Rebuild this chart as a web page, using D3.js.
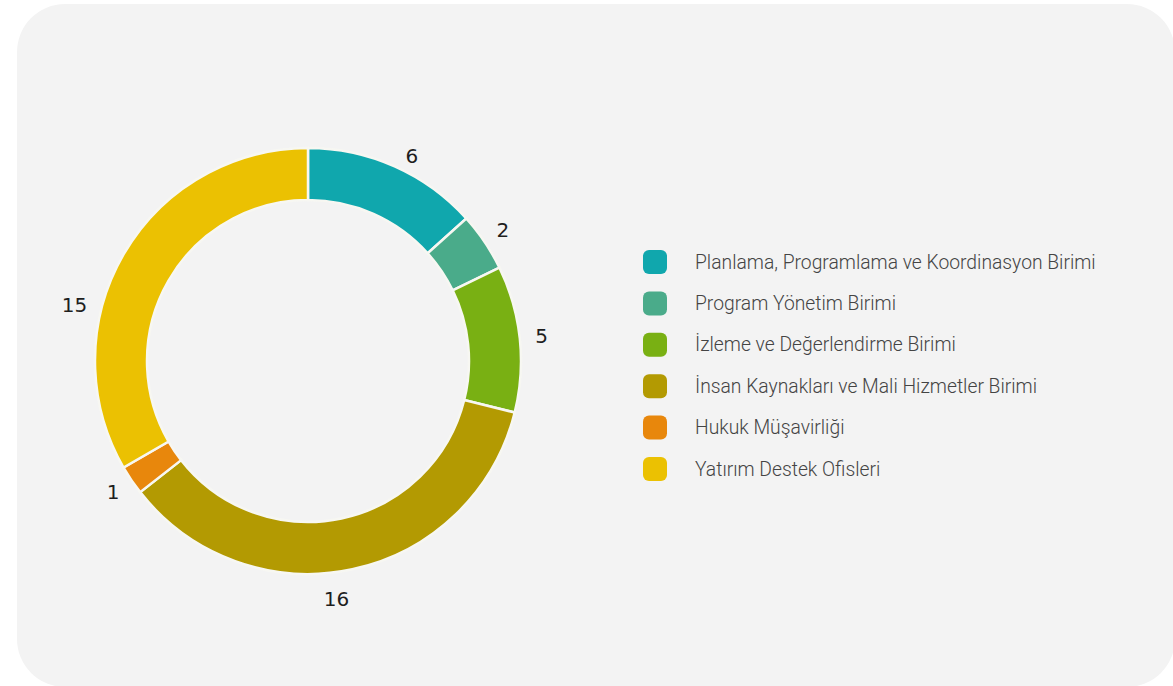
<!DOCTYPE html>
<html>
<head>
<meta charset="utf-8">
<script src="https://cdn.jsdelivr.net/npm/d3@7"></script>
<style>
  html, body { margin: 0; padding: 0; background: #ffffff; }
  svg { display: block; }
</style>
</head>
<body>
<svg id="chart" width="1173" height="686"></svg>
<script>
// Personnel count by unit
const categories = [
  "Planlama, Programlama ve Koordinasyon Birimi",
  "Program Yönetim Birimi",
  "İzleme ve Değerlendirme Birimi",
  "İnsan Kaynakları ve Mali Hizmetler Birimi",
  "Hukuk Müşavirliği",
  "Yatırım Destek Ofisleri"
];
const values = [6, 2, 5, 16, 1, 15];
const colors = ["#10a7ad", "#4aab8a", "#79b013", "#b39a02", "#e8870c", "#ebc102"];

const svg = d3.select("#chart");

// background card
svg.append("rect")
  .attr("x", 17).attr("y", 4)
  .attr("width", 1158).attr("height", 683)
  .attr("rx", 48).attr("ry", 48)
  .attr("fill", "#f3f3f3");

const cx = 308, cy = 361;
const outerR = 213, innerR = 161;

const data = categories.map((c, i) => ({ name: c, value: values[i], color: colors[i] }));

const pie = d3.pie().sort(null).value(d => d.value);
const arcs = pie(data);
const arc = d3.arc().innerRadius(innerR).outerRadius(outerR);

const g = svg.append("g").attr("transform", `translate(${cx},${cy})`);

g.selectAll("path.slice")
  .data(arcs)
  .join("path")
  .attr("class", "slice")
  .attr("d", arc)
  .attr("fill", d => d.data.color)
  .attr("stroke", "#f7f7f2")
  .attr("stroke-width", 2.5);

// value labels outside the ring; a few are nudged along the ring to sit clear of neighbours
const labelR = 235;
const angleNudge = { 0: 0.05, 3: 0.09, 5: -0.29 };
const radiusNudge = { 0: -5, 3: 5, 5: 5 };
g.selectAll("text.val")
  .data(arcs)
  .join("text")
  .attr("class", "val")
  .each(function (d, i) {
    const a = (d.startAngle + d.endAngle) / 2 + (angleNudge[i] || 0);
    const r = labelR + (radiusNudge[i] || 0);
    d3.select(this)
      .attr("x", Math.sin(a) * r)
      .attr("y", -Math.cos(a) * r);
  })
  .attr("text-anchor", "middle")
  .attr("dominant-baseline", "central")
  .attr("font-family", "DejaVu Sans, sans-serif")
  .attr("font-size", 20)
  .attr("fill", "#1e1e1e")
  .text(d => d.data.value);

// legend
const legend = svg.append("g").attr("transform", "translate(643,262)");
const rowH = 41.4;
const rows = legend.selectAll("g.item")
  .data(data)
  .join("g")
  .attr("class", "item")
  .attr("transform", (d, i) => `translate(0,${i * rowH})`);

rows.append("rect")
  .attr("x", 0).attr("y", -12)
  .attr("width", 24).attr("height", 24)
  .attr("rx", 6).attr("ry", 6)
  .attr("fill", d => d.color);

rows.append("text")
  .attr("x", 52).attr("y", 0)
  .attr("dominant-baseline", "central")
  .attr("font-family", "Roboto, sans-serif")
  .attr("font-weight", 300)
  .attr("font-size", 19.3)
  .attr("fill", "#444")
  .text(d => d.name);
</script>
</body>
</html>
